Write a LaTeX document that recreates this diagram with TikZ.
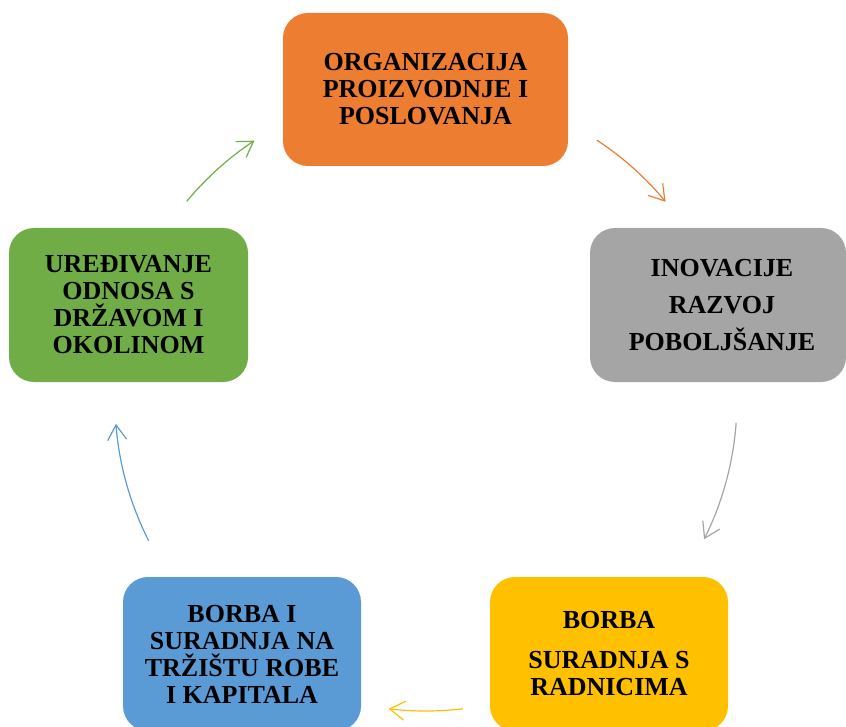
\documentclass[tikz,border=0pt]{standalone}
\usepackage{fontspec}
\setmainfont{Liberation Serif}
\usetikzlibrary{arrows.meta,calc}
\definecolor{cOrange}{HTML}{ED7D31}
\definecolor{cGray}{HTML}{A5A5A5}
\definecolor{cYellow}{HTML}{FFC000}
\definecolor{cBlue}{HTML}{5B9BD5}
\definecolor{cGreen}{HTML}{70AD47}
\begin{document}
\begin{tikzpicture}[x=1pt,y=1pt,
  box/.style={rounded corners=25pt, inner sep=0pt, align=center,
    font=\fontsize{26}{27}\selectfont\bfseries, text=black},
  arr/.style={line width=1.2pt, -{Straight Barb[length=15pt,width=19pt,line width=1.2pt]}}]
\useasboundingbox (0,0) rectangle (846,-727);
% boxes
\node[box, fill=cOrange, minimum width=285pt, minimum height=153pt] (org) at (425.5,-89.5)
  {ORGANIZACIJA\\PROIZVODNJE I\\POSLOVANJA};
\node[box, fill=cGray, minimum width=256pt, minimum height=154pt] (ino) at (718,-305)
  {\hspace*{8pt}INOVACIJE\\[10pt]\hspace*{8pt}RAZVOJ\\[10pt]\hspace*{8pt}POBOLJŠANJE};
\node[box, fill=cYellow, minimum width=238pt, minimum height=154pt] (rad) at (609,-654)
  {BORBA\\[13pt]SURADNJA S\\RADNICIMA};
\node[box, fill=cBlue, minimum width=238pt, minimum height=154pt] (trz) at (242,-654)
  {BORBA I\\SURADNJA NA\\TRŽIŠTU ROBE\\I KAPITALA};
\node[box, fill=cGreen, minimum width=239pt, minimum height=154pt] (drz) at (128.5,-305)
  {UREĐIVANJE\\ODNOSA S\\DRŽAVOM I\\OKOLINOM};
% arrows on a circle
\coordinate (O) at (426,-400);
\coordinate (s1) at ($(O)+(56.7:311)$);
\coordinate (s2) at ($(O)+(-4.2:311)$);
\coordinate (s3) at ($(O)+(-83.2:311)$);
\coordinate (s4) at ($(O)+(206.9:311)$);
\coordinate (s5) at ($(O)+(140.3:311)$);
\draw[arr, cOrange] (s1) arc[start angle=56.7, end angle=39.6, radius=311];
\draw[arr, cGray] (s2) arc[start angle=-4.2, end angle=-26.6, radius=311];
\draw[arr, cYellow] (s3) arc[start angle=-83.2, end angle=-96.9, radius=311];
\draw[arr, cBlue] (s4) arc[start angle=206.9, end angle=184.4, radius=311];
\draw[arr, cGreen] (s5) arc[start angle=140.3, end angle=123.5, radius=311];
\end{tikzpicture}
\end{document}
